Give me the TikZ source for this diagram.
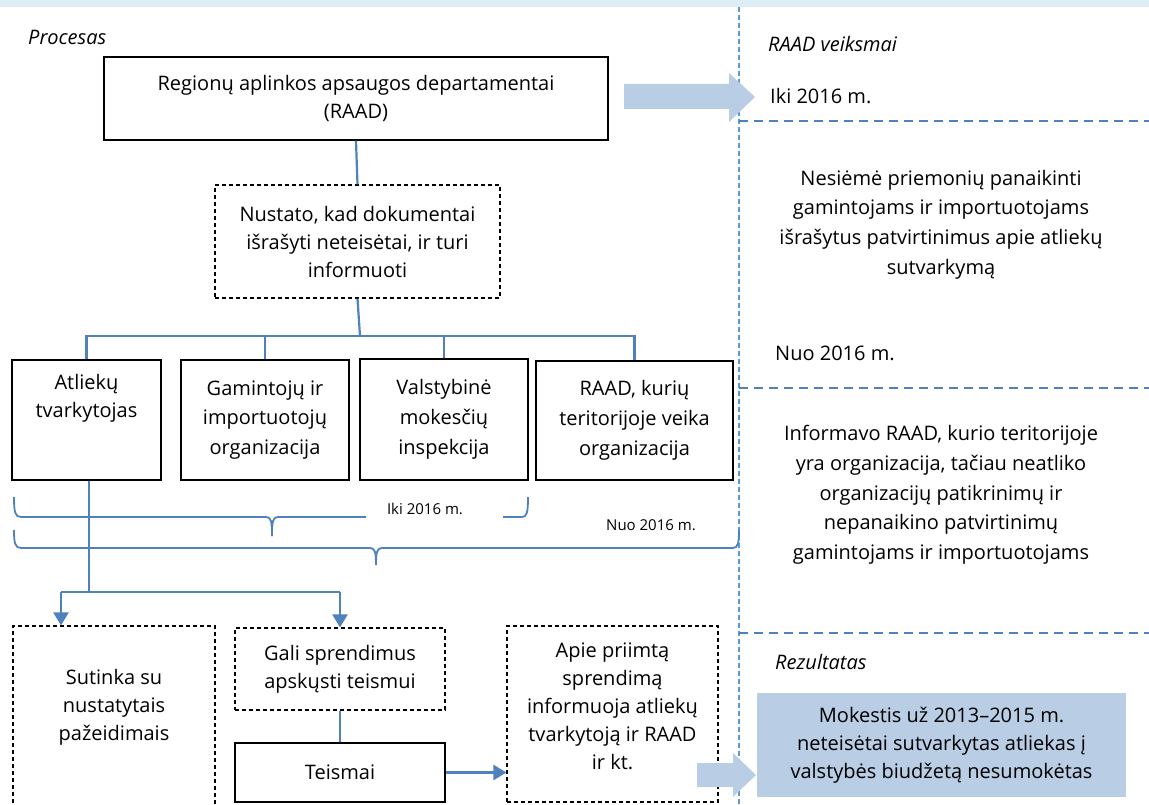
\documentclass[tikz,border=0pt]{standalone}
\usepackage{fontspec}
\setmainfont{Open Sans}
\usetikzlibrary{arrows.meta}
\definecolor{lineblue}{HTML}{4F81BD}
\definecolor{fillblue}{HTML}{B9CDE5}
\definecolor{topband}{HTML}{DAEEF3}
\definecolor{vblue}{HTML}{5B9BD5}
\begin{document}
\begin{tikzpicture}[x=1pt,y=-1pt,
  txt/.style={align=center, font=\fontsize{20}{28}\selectfont, inner sep=0pt},
  widetxt/.style={txt, font=\fontsize{20}{29.7}\selectfont},
  smalltxt/.style={font=\fontsize{15}{18}\selectfont, inner sep=0pt},
  headtxt/.style={font=\fontsize{20}{24}\selectfont\itshape, inner sep=0pt, anchor=west},
  solidbox/.style={draw=black, line width=1.3pt, txt, rectangle},
  dashbox/.style={solidbox, line width=1.1pt, dash pattern=on 4pt off 3pt},
  conn/.style={draw=lineblue, line width=2.2pt},
  arr/.style={conn, -{Triangle[length=13pt,width=15pt]}},
  sep/.style={draw=lineblue, line width=1.5pt, dash pattern=on 9pt off 6pt},
  vsep/.style={draw=vblue, line width=1.3pt, dash pattern=on 5pt off 3pt},
  bigarrow/.style={fill=fillblue, draw=none}
]
\useasboundingbox (0,0) rectangle (1149,805);
\clip (0,0) rectangle (1149,805);
\fill[topband] (0,0) rectangle (1149,7);

% separators
\draw[vsep] (739,7) -- (739,805);
\draw[sep] (739,121) -- (1149,121);
\draw[sep] (739,388) -- (1149,388);
\draw[sep] (739,633) -- (1149,633);

% headings
\node[headtxt] (hproc) at (28,37) {Procesas};
\node[headtxt] (hraad) at (768,44) {RAAD veiksmai};
\node[headtxt] (hrez) at (775,662) {Rezultatas};

% left process
\node[solidbox, minimum width=504pt, minimum height=83pt] (raad) at (356,98.5) {Regionų aplinkos apsaugos departamentai\\(RAAD)};
\node[dashbox, minimum width=285pt, minimum height=113pt] (nust) at (357.5,241.5) {Nustato, kad dokumentai\\išrašyti neteisėtai, ir turi\\informuoti};

\node[solidbox, minimum width=149pt, minimum height=120pt] (atl) at (86.5,420) {};
\node[txt] (atltxt) at (86.5,398) {Atliekų\\tvarkytojas};
\node[solidbox, widetxt, minimum width=168pt, minimum height=120pt] (gam) at (265,420) {Gamintojų ir\\importuotojų\\organizacija};
\node[solidbox, widetxt, minimum width=168pt, minimum height=121pt] (vmi) at (444,419.5) {Valstybinė\\mokesčių\\inspekcija};
\node[solidbox, widetxt, minimum width=197pt, minimum height=119pt] (rk) at (634.5,420.5) {RAAD, kurių\\teritorijoje veika\\organizacija};

\coordinate (bus) at (360,336);
\draw[conn] (raad.south) -- (nust.north);
\draw[conn] (nust.south) -- (bus);
\draw[conn] (atl.north) |- (bus);
\draw[conn] (rk.north) |- (bus);
\draw[conn] (gam.north) -- (gam.north |- bus);
\draw[conn] (vmi.north) -- (vmi.north |- bus);

% braces
\node[smalltxt] (iki) at (425,509) {Iki 2016 m.};
\node[smalltxt] (nuo) at (651,525) {Nuo 2016 m.};
\draw[conn, line width=1.8pt] (14,497) .. controls (14,512) and (15,517) .. (21,517) -- (266,517) .. controls (271,517) and (272,521) .. (272,536);
\draw[conn, line width=1.8pt] (272,536) .. controls (272,521) and (273,517) .. (278,517) -- (366,517);
\draw[conn, line width=1.8pt] (503,517) -- (522,517) .. controls (527,517) and (528,512) .. (528,497);
\draw[conn, line width=1.8pt] (14,530) .. controls (14,543) and (15,548) .. (21,548) -- (370,548) .. controls (375,548) and (376,552) .. (376,565);
\draw[conn, line width=1.8pt] (376,565) .. controls (376,552) and (377,548) .. (382,548) -- (733,548) .. controls (738,548) and (739,543) .. (739,530);

% lower part
\node[dashbox, minimum width=202pt, minimum height=200pt] (sut) at (114,726) {};
\node[txt] (suttxt) at (114,707) {Sutinka su\\nustatytais\\pažeidimais};
\node[dashbox, minimum width=210pt, minimum height=82pt] (gali) at (340,669) {Gali sprendimus\\apskųsti teismui};
\node[solidbox, minimum width=210pt, minimum height=59pt] (teis) at (340,772.5) {Teismai};
\node[dashbox, minimum width=211pt, minimum height=176pt] (apie) at (612.5,714) {};
\node[txt] (apietxt) at (612.5,706) {Apie priimtą\\sprendimą\\informuoja atliekų\\tvarkytoją ir RAAD\\ir kt.};

\coordinate (split) at (89,592);
\draw[conn] (89,481) -- (split);
\draw[conn] (61,592) -- (340,592);
\draw[arr] (61,592) -- (sut.north -| 61,0);
\draw[arr] (340,592) -- (gali.north);
\draw[conn] (gali.south) -- (teis.north);
\draw[arr] (teis.east) -- (apie.west |- teis.east);

% right column texts
\node[txt, anchor=west] (iki1) at (770,96) {Iki 2016 m.};
\node[widetxt] (nesi) at (941,224.5) {Nesiėmė priemonių panaikinti\\gamintojams ir importuotojams\\išrašytus patvirtinimus apie atliekų\\sutvarkymą};
\node[txt, anchor=west] (nuo1) at (775,353) {Nuo 2016 m.};
\node[widetxt] (inf) at (941,495) {Informavo RAAD, kurio teritorijoje\\yra organizacija, tačiau neatliko\\organizacijų patikrinimų ir\\nepanaikino patvirtinimų\\gamintojams ir importuotojams};

\node[fill=fillblue, minimum width=369pt, minimum height=104pt, txt] (rez) at (941.5,745) {Mokestis už 2013–2015 m.\\neteisėtai sutvarkytas atliekas į\\valstybės biudžetą nesumokėtas};

% big arrows
\fill[bigarrow] (624,84) -- (729,84) -- (729,73) -- (755,97) -- (729,122) -- (729,109) -- (624,109) -- cycle;
\fill[bigarrow] (697,763) -- (733,763) -- (733,753) -- (756,775) -- (733,797) -- (733,787) -- (697,787) -- cycle;
\end{tikzpicture}
\end{document}
